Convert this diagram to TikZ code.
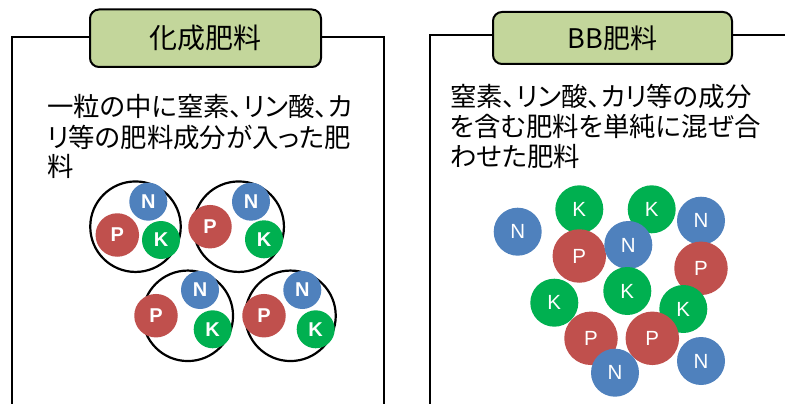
\documentclass[tikz,border=0pt]{standalone}
\usepackage{fontspec}
\setmainfont{Liberation Sans}
\newfontfamily\jp[RawFeature=+palt]{Noto Sans CJK JP}
\newfontfamily\jpt{Noto Sans CJK JP}
\definecolor{titlegreen}{RGB}{195,214,155}
\definecolor{nblue}{RGB}{79,129,189}
\definecolor{pred}{RGB}{192,80,77}
\definecolor{kgreen}{RGB}{0,176,80}
\tikzset{
  frameline/.style={line width=2pt, line cap=rect},
  titlebox/.style={draw, line width=2pt, fill=titlegreen, rounded corners=9pt, inner sep=0pt},
  bodytext/.style={anchor=west, inner sep=0pt, font=\jp\fontsize{26.4}{30}\selectfont},
  grain/.style={circle, draw, line width=2.2pt, fill=white, minimum size=90.5pt, inner sep=0pt},
  ballL/.style={circle, fill=#1, inner sep=0pt, text=white, font=\bfseries\fontsize{20}{21}\selectfont},
  ballR/.style={circle, fill=#1, inner sep=0pt, text=white, font=\fontsize{20.5}{21}\selectfont},
  nL/.style={ballL=nblue, minimum size=38pt},
  pL/.style={ballL=pred, minimum size=43.5pt},
  kL/.style={ballL=kgreen, minimum size=38pt},
  nR/.style={ballR=nblue, minimum size=48pt},
  pR/.style={ballR=pred, minimum size=53.5pt},
  kR/.style={ballR=kgreen, minimum size=48pt},
}
\begin{document}
\begin{tikzpicture}[x=1pt,y=-1pt]
\useasboundingbox (0,0) rectangle (785,404);
\clip (0,0) rectangle (785,404);
% frames
\coordinate (lb) at (12,410);
\coordinate (lt) at (12,37.5);
\coordinate (rt) at (384,37.5);
\coordinate (rb) at (384,410);
\draw[frameline] (lb) -- (lt) -- (rt) -- (rb);
\coordinate (bb) at (430,410);
\coordinate (bt) at (430,35);
\coordinate (br) at (800,35);
\draw[frameline] (bb) -- (bt) -- (br);
% titles
\node[titlebox, minimum width=231pt, minimum height=57.5pt] (t1) at (205.5,38.25) {};
\node[font=\jpt\fontsize{28}{30}\selectfont, inner sep=0pt] (t1text) at (t1.center) {化成肥料};
\node[titlebox, minimum width=239pt, minimum height=52pt] (t2) at (612.5,38) {};
\node[font=\jpt\fontsize{27}{30}\selectfont, inner sep=0pt] (t2text) at (t2.center) {BB肥料};
% body texts
\node[bodytext] (a1) at (47,106) {一粒の中に窒素、リン酸、カ};
\node[bodytext] (a2) at (47,137) {リ等の肥料成分が入った肥};
\node[bodytext] (a3) at (47,166) {料};
\node[bodytext] (b1) at (450,96) {窒素、リン酸、カリ等の成分};
\node[bodytext] (b2) at (450,126) {を含む肥料を単純に混ぜ合};
\node[bodytext] (b3) at (450,156) {わせた肥料};
% compound fertiliser grains
\node[grain] (g1) at (135.5,226.7) {};
\node[grain] (g2) at (238.7,226.7) {};
\node[grain] (g3) at (187.8,315.8) {};
\node[grain] (g4) at (290.5,315.8) {};
\node[nL] (n1) at (148.3,201.7) {N};
\node[pL] (p1) at (117.3,235) {P};
\node[kL] (k1) at (161,240) {K};
\node[nL] (n2) at (251,201.7) {N};
\node[pL] (p2) at (210,226.7) {P};
\node[kL] (k2) at (264,239.3) {K};
\node[nL] (n3) at (200,290) {N};
\node[pL] (p3) at (156,315.7) {P};
\node[kL] (k3) at (212.7,329.3) {K};
\node[nL] (n4) at (302.3,290) {N};
\node[pL] (p4) at (264,315.7) {P};
\node[kL] (k4) at (315.7,329.3) {K};
% bulk blend
\node[nR] (na) at (517.7,231.7) {N};
\node[kR] (ka) at (579.3,209.3) {K};
\node[kR] (kb) at (651.7,209.3) {K};
\node[nR] (nb) at (701,220.7) {N};
\node[pR] (pa) at (579.3,256) {P};
\node[nR] (nc) at (628.3,245) {N};
\node[pR] (pb) at (701,268.3) {P};
\node[kR] (kc) at (627.3,291) {K};
\node[kR] (kd) at (554.3,302.7) {K};
\node[kR] (ke) at (683.3,309) {K};
\node[pR] (pc) at (591,338.3) {P};
\node[pR] (pd) at (652.3,338.3) {P};
\node[nR] (nd) at (615,372.7) {N};
\node[nR] (ne) at (701,361) {N};
\end{tikzpicture}
\end{document}
